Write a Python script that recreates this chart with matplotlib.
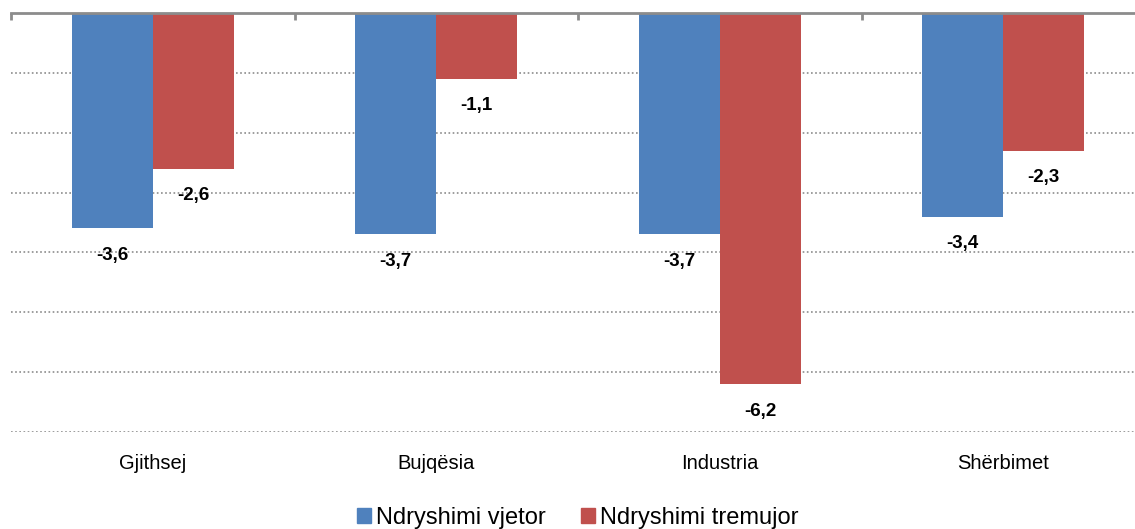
import matplotlib
matplotlib.use("Agg")
import matplotlib.pyplot as plt
from matplotlib.patches import Patch
import numpy as np

categories = ["Gjithsej", "Bujqësia", "Industria", "Shërbimet"]
vjetor = [-3.6, -3.7, -3.7, -3.4]
tremujor = [-2.6, -1.1, -6.2, -2.3]
series_names = ["Ndryshimi vjetor", "Ndryshimi tremujor"]
colors = ["#4F81BD", "#C0504D"]

plt.rcParams['font.family'] = ['Liberation Sans', 'DejaVu Sans']

W, H = 1135, 529
fig = plt.figure(figsize=(W/100, H/100), dpi=100)
ax = fig.add_axes([11/W, 1-432/H, 1134/W, 419/H])

x = np.arange(len(categories))
bw = 0.286
b1 = ax.bar(x - bw/2, vjetor, bw, color=colors[0], zorder=3)
b2 = ax.bar(x + bw/2, tremujor, bw, color=colors[1], zorder=3)

for bars, vals in ((b1, vjetor), (b2, tremujor)):
    for rect, v in zip(bars, vals):
        ax.annotate(f"{v:.1f}".replace(".", ","),
                    (rect.get_x() + rect.get_width()/2, v),
                    xytext=(0, -19.5), textcoords="offset points",
                    ha="center", va="center", fontsize=13.5, fontweight="bold",
                    color="black", zorder=4)

ax.set_xlim(-0.5, len(categories) - 0.5)
ax.set_ylim(-7, 0)
ax.set_yticks(np.arange(-7, 0, 1))
ax.yaxis.grid(True, linestyle=(0, (1, 1.5)), color="#8c8c8c", linewidth=1.2, zorder=0)
ax.tick_params(axis="y", left=False, labelleft=False)

for s in ("left", "right", "bottom"):
    ax.spines[s].set_visible(False)
ax.spines["top"].set_color("#8c8c8c")
ax.spines["top"].set_linewidth(2)
ax.spines["top"].set_zorder(5)

ax.set_xticks(x)
ax.set_xticklabels(categories, fontsize=14.5)
ax.tick_params(axis="x", which="major", bottom=False, top=False, pad=12)
ax.set_xticks(np.arange(-0.5, len(categories), 1), minor=True)
ax.tick_params(axis="x", which="minor", top=True, bottom=False, direction="in",
               length=5, width=2, color="#8c8c8c")

handles = [Patch(color=c, label=n) for c, n in zip(colors, series_names)]
fig.legend(handles=handles, loc="center", bbox_to_anchor=(577.5/W, 1-518/H),
           ncol=2, frameon=False, fontsize=17, handlelength=0.6, handleheight=0.6,
           handletextpad=0.2, columnspacing=1.5, borderaxespad=0)

fig.savefig("out.png", dpi=100)
